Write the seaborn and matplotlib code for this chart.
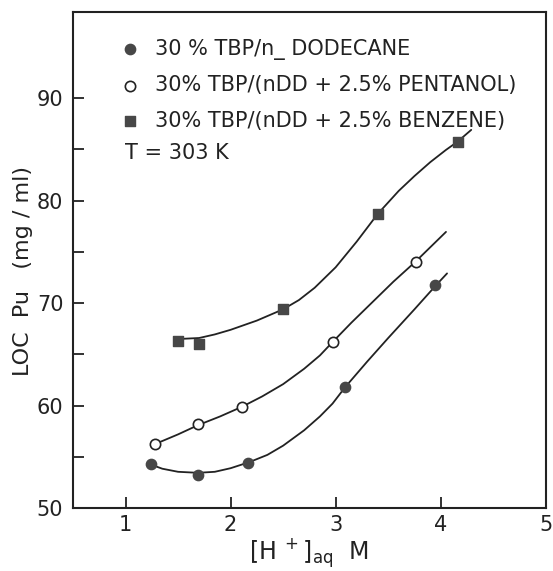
import matplotlib
matplotlib.use("Agg")
import matplotlib.pyplot as plt
import seaborn as sns
from matplotlib.ticker import FixedLocator

# measured points
dodecane_x = [1.24, 1.69, 2.17, 3.09, 3.95]
dodecane_y = [54.35, 53.25, 54.45, 61.8, 71.75]
pentanol_x = [1.28, 1.69, 2.11, 2.97, 3.76]
pentanol_y = [56.25, 58.2, 59.9, 66.2, 74.05]
benzene_x = [1.50, 1.70, 2.50, 3.40, 4.16]
benzene_y = [66.35, 66.05, 69.4, 78.7, 85.75]

# hand-drawn curves
dodecane_curve_x = [1.23, 1.35, 1.50, 1.69, 1.85, 2.00, 2.18, 2.35, 2.50, 2.70,
                    2.85, 2.97, 3.09, 3.30, 3.50, 3.75, 3.96, 4.06]
dodecane_curve_y = [54.3, 53.85, 53.55, 53.45, 53.55, 53.9, 54.5, 55.2, 56.1, 57.6,
                    58.95, 60.2, 61.8, 64.3, 66.6, 69.4, 71.8, 72.9]
pentanol_curve_x = [1.28, 1.50, 1.69, 1.90, 2.11, 2.30, 2.50, 2.70, 2.85, 2.97,
                    3.15, 3.35, 3.55, 3.76, 4.05]
pentanol_curve_y = [56.25, 57.2, 58.1, 58.95, 59.9, 60.9, 62.1, 63.6, 64.9, 66.2,
                    68.1, 70.1, 72.1, 74.05, 76.95]
benzene_curve_x = [1.50, 1.70, 1.85, 2.00, 2.25, 2.50, 2.65, 2.80, 3.00, 3.20,
                   3.40, 3.60, 3.75, 3.90, 4.05, 4.16, 4.29]
benzene_curve_y = [66.5, 66.6, 66.95, 67.4, 68.3, 69.4, 70.3, 71.5, 73.5, 76.0,
                   78.7, 80.95, 82.4, 83.75, 84.95, 85.75, 86.9]

labels = ["30 % TBP/n_ DODECANE",
          "30% TBP/(nDD + 2.5% PENTANOL)",
          "30% TBP/(nDD + 2.5% BENZENE)"]
x_ticks = [1, 2, 3, 4, 5]
y_ticks = [50, 60, 70, 80, 90]
y_minor = [55, 65, 75, 85]

sns.set_theme(style="ticks")
plt.rcParams["font.family"] = ["DejaVu Sans"]

ink = "#222222"
dot = "#474747"

fig = plt.figure(figsize=(5.53, 5.71), dpi=100)
ax = fig.add_axes([0.132, 0.110, 0.855, 0.869])

for cx, cy in [(dodecane_curve_x, dodecane_curve_y),
               (pentanol_curve_x, pentanol_curve_y),
               (benzene_curve_x, benzene_curve_y)]:
    sns.lineplot(x=cx, y=cy, ax=ax, color=ink, linewidth=1.3, sort=False,
                 estimator=None)

sns.scatterplot(x=dodecane_x, y=dodecane_y, ax=ax, marker="o", s=55,
                color=dot, edgecolor=dot, linewidth=1, label=labels[0], zorder=3)
sns.scatterplot(x=pentanol_x, y=pentanol_y, ax=ax, marker="o", s=55,
                facecolor="white", edgecolor=ink, linewidth=1.2, label=labels[1],
                zorder=3)
sns.scatterplot(x=benzene_x, y=benzene_y, ax=ax, marker="s", s=55,
                color=dot, edgecolor=dot, linewidth=1, label=labels[2], zorder=3)

ax.set_xlim(0.5, 5)
ax.set_ylim(50, 98.4)
ax.xaxis.set_major_locator(FixedLocator(x_ticks))
ax.yaxis.set_major_locator(FixedLocator(y_ticks))
ax.yaxis.set_minor_locator(FixedLocator(y_minor))
ax.tick_params(which="both", direction="in", length=8, width=1.3,
               color=ink, labelcolor=ink, labelsize=15)
ax.tick_params(axis="y", pad=7)
ax.tick_params(axis="x", pad=5)
for s in ax.spines.values():
    s.set_visible(True)
    s.set_linewidth(1.5)
    s.set_color(ink)

ax.set_ylabel("LOC  Pu   (mg / ml)", fontsize=16, color=ink)
ax.yaxis.set_label_coords(-0.084, 0.478)
ax.set_xlabel(r"$\left[\mathrm{H}^{\ +}\right]_{\mathrm{aq}}\ \ \mathrm{M}$",
              fontsize=17, color=ink, labelpad=1)

leg = ax.legend(loc="upper left", bbox_to_anchor=(0.10, 0.946), frameon=False,
                fontsize=15, handlelength=0.95, handletextpad=0.72,
                labelspacing=0.74, borderpad=0, borderaxespad=0)
for t in leg.get_texts():
    t.set_color(ink)
ax.text(0.11, 0.716, "T = 303 K", transform=ax.transAxes, fontsize=15,
        color=ink, va="center", ha="left")

fig.savefig("out.png", dpi=100, facecolor="white")
